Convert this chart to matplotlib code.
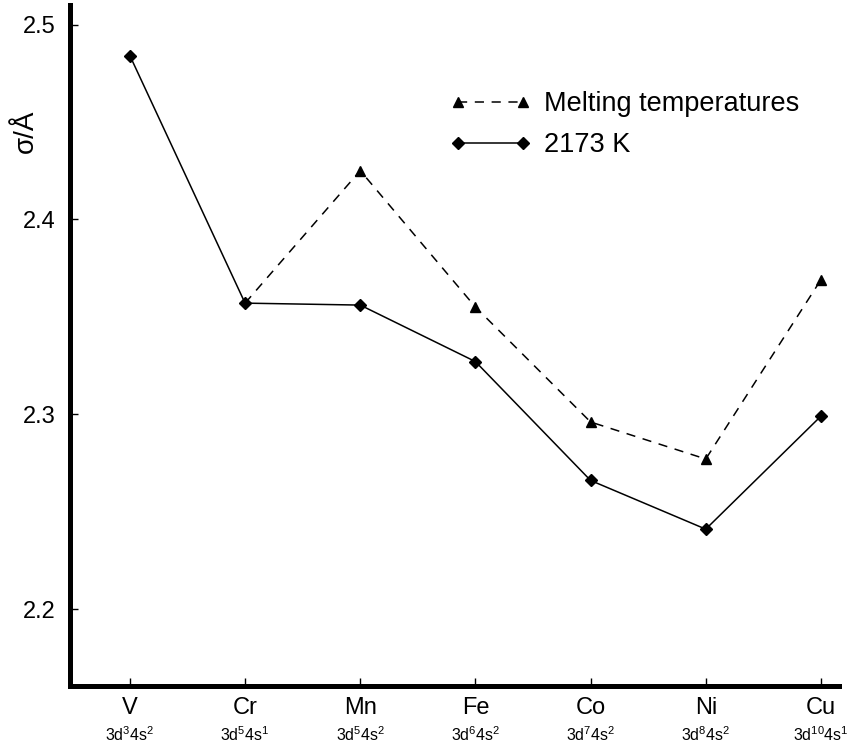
import numpy as np
import matplotlib
matplotlib.use('Agg')
import matplotlib.pyplot as plt

plt.rcParams['font.family'] = ['Liberation Sans', 'DejaVu Sans']

# Data
elements = ['V', 'Cr', 'Mn', 'Fe', 'Co', 'Ni', 'Cu']
configs = [r'$\mathregular{3d^{3}4s^{2}}$', r'$\mathregular{3d^{5}4s^{1}}$',
           r'$\mathregular{3d^{5}4s^{2}}$', r'$\mathregular{3d^{6}4s^{2}}$',
           r'$\mathregular{3d^{7}4s^{2}}$', r'$\mathregular{3d^{8}4s^{2}}$',
           r'$\mathregular{3d^{10}4s^{1}}$']
sigma_2173 = [2.484, 2.357, 2.356, 2.327, 2.266, 2.241, 2.299]
sigma_melt = [np.nan, 2.357, 2.425, 2.355, 2.296, 2.277, 2.369]
yticks = [2.2, 2.3, 2.4, 2.5]

x = np.arange(len(elements))

fig = plt.figure(figsize=(8.58, 7.49), dpi=100)
ax = fig.add_axes([0.0816, 0.0841, 0.896, 0.9092])

ax.plot(x, sigma_melt, color='black', lw=1.1, linestyle=(0, (6, 5)),
        marker='^', ms=7.5, markevery=[2, 3, 4, 5, 6],
        label='Melting temperatures', zorder=2)
ax.plot(x, sigma_2173, color='black', lw=1.1, marker='D', ms=6.5,
        label='2173 K', zorder=3)

ax.set_xlim(-0.52, 6.155)
ax.set_ylim(2.1605, 2.510)

ax.set_yticks(yticks)
ax.set_yticklabels([f'{t:.1f}' for t in yticks], fontsize=17)
ax.set_xticks(x)
ax.set_xticklabels(elements, fontsize=17)
ax.tick_params(axis='both', direction='in', length=6, width=1, color='black')
ax.tick_params(axis='y', pad=10)
ax.tick_params(axis='x', pad=8)

for i, c in enumerate(configs):
    ax.annotate(c, xy=(i, 0), xycoords=('data', 'axes fraction'),
                xytext=(0, -35), textcoords='offset points',
                ha='center', va='center', fontsize=11.5)

for side in ['top', 'right']:
    ax.spines[side].set_visible(False)
for side in ['left', 'bottom']:
    ax.spines[side].set_linewidth(3.6)

ax.set_ylabel('σ/Å', fontsize=20)
ax.yaxis.set_label_coords(-0.04, 0.815)

ax.legend(loc='upper left', bbox_to_anchor=(0.477, 0.893), frameon=False,
          fontsize=19.5, numpoints=2, handlelength=3.0, handletextpad=0.45,
          labelspacing=0.55, borderpad=0)

fig.savefig('out.png', dpi=100)
